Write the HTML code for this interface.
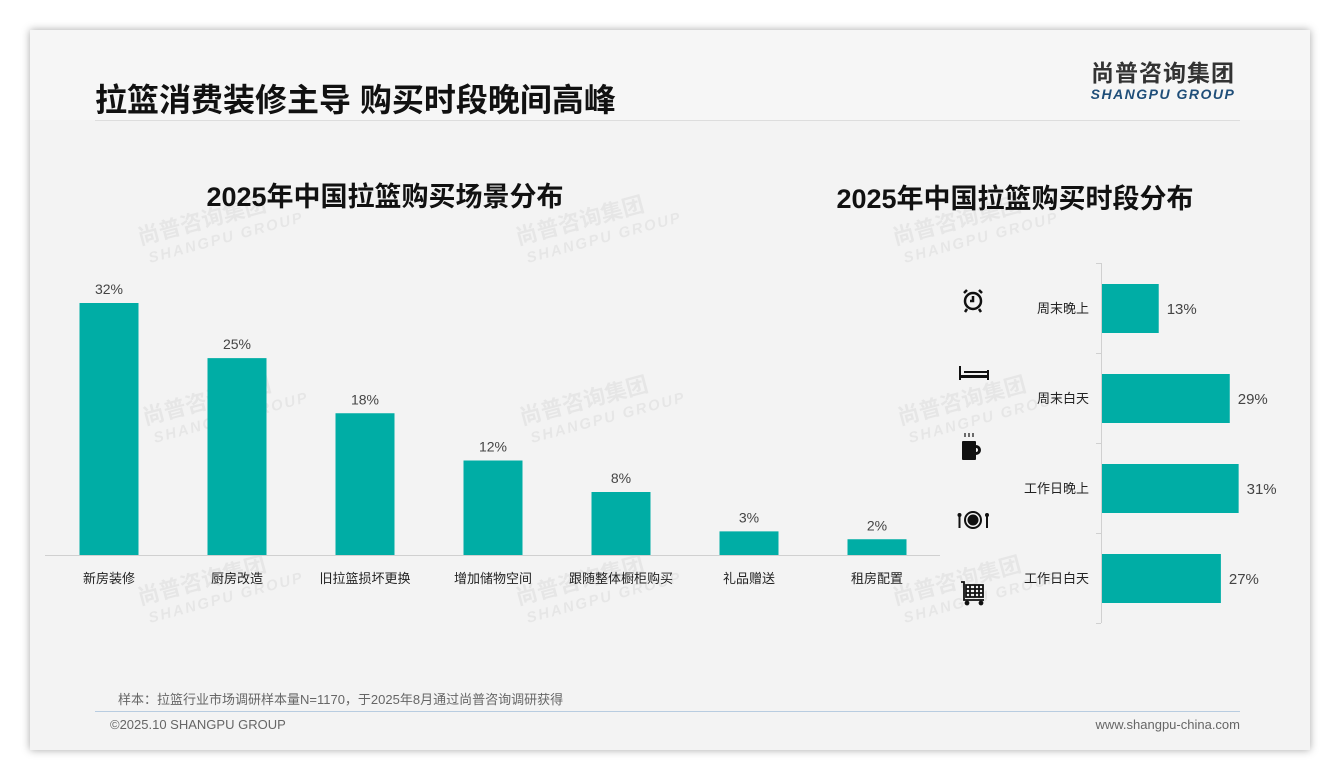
<!DOCTYPE html>
<html><head><meta charset="utf-8"><style>
body{margin:0;width:1340px;height:780px;background:#fff;font-family:"Liberation Sans","Noto Sans CJK SC",sans-serif;position:relative;overflow:hidden}
.slide{position:absolute;left:30px;top:30px;width:1280px;height:720px;background:#f3f3f3;box-shadow:0 0 8px rgba(0,0,0,.35)}
.hdr{position:absolute;left:0;top:0;width:1280px;height:90px;background:#f6f6f6}
.abs{position:absolute}
</style></head><body>
<div class="slide">
<div class="hdr"></div>
</div>
<div class="abs" style="left:95px;top:75px;font-size:32px;font-weight:bold;color:#111;white-space:nowrap">拉篮消费装修主导 购买时段晚间高峰</div>
<div class="abs" style="left:1083px;top:61px;width:160px;text-align:center">
<div style="font-size:23px;font-weight:bold;color:#333;letter-spacing:1px;line-height:25px">尚普咨询集团</div>
<div style="font-size:14px;font-weight:bold;font-style:italic;color:#1f4e79;letter-spacing:1.5px;line-height:16px">SHANGPU GROUP</div>
</div>
<div class="abs" style="left:95px;top:120px;width:1145px;height:1px;background:#ddd"></div>
<div class="abs" style="left:110px;top:175px;width:550px;text-align:center;font-size:27px;font-weight:bold;color:#111">2025年中国拉篮购买场景分布</div>
<div class="abs" style="left:800px;top:177px;width:430px;text-align:center;font-size:27px;font-weight:bold;color:#111">2025年中国拉篮购买时段分布</div>
<svg class="abs" style="left:0;top:0" width="1340" height="780" id="svg">
<g id="wms" fill="rgba(0,0,0,0.05)" font-weight="bold" font-family="Liberation Sans,Noto Sans CJK SC,sans-serif"></g>
<line x1="45" y1="555.5" x2="940" y2="555.5" stroke="#d0d0d0"/>
<line x1="1101.5" y1="263" x2="1101.5" y2="623" stroke="#d0d0d0"/>
<g id="left"></g><g id="right"></g><g id="icons"></g>
</svg>
<div class="abs" style="left:118px;top:689px;font-size:13px;color:#666;white-space:nowrap">样本：拉篮行业市场调研样本量N=1170，于2025年8月通过尚普咨询调研获得</div>
<div class="abs" style="left:95px;top:711px;width:1145px;height:1px;background:#b8cce0"></div>
<div class="abs" style="left:110px;top:717px;font-size:13px;color:#666">©2025.10 SHANGPU GROUP</div>
<div class="abs" style="left:1040px;top:717px;width:200px;text-align:right;font-size:13px;color:#666">www.shangpu-china.com</div>
<script>
const sceneCats=["新房装修","厨房改造","旧拉篮损坏更换","增加储物空间","跟随整体橱柜购买","礼品赠送","租房配置"];
const sceneVals=[32,25,18,12,8,3,2];
const timeCats=["周末晚上","周末白天","工作日晚上","工作日白天"];
const timeVals=[13,29,31,27];
const NS="http://www.w3.org/2000/svg";
function mk(t,a,p,txt){const e=document.createElementNS(NS,t);for(const k in a)e.setAttribute(k,a[k]);if(txt!==undefined)e.textContent=txt;p.appendChild(e);return e;}
const C="#00ada5";
const xL=i=>109+i*128, yL=v=>555-v*7.875;
const gl=document.getElementById('left');
sceneCats.forEach((c,i)=>{
 const b=mk('rect',{x:xL(i)-29.5,y:yL(sceneVals[i]),width:59,height:555-yL(sceneVals[i]),fill:C},gl);
 
 
 const v=mk('text',{x:xL(i),y:yL(sceneVals[i])-9,'text-anchor':'middle','font-size':14,fill:'#444'},gl,sceneVals[i]+'%');
 
 
 const l=mk('text',{x:xL(i),y:583,'text-anchor':'middle','font-size':13,fill:'#222'},gl,c);
 
 
});
const yR=i=>263+i*90, xR=v=>1101+v*4.44;
const gr=document.getElementById('right');
for(let i=0;i<=4;i++){const t=mk('line',{x1:1096,x2:1101,y1:yR(i)+.5,y2:yR(i)+.5,stroke:'#d0d0d0'},gr);
 
 }
timeCats.forEach((c,i)=>{
 const b=mk('rect',{x:1102,y:yR(i)+21,width:xR(timeVals[i])-1102,height:49,fill:C},gr);
 
 
 const v=mk('text',{x:xR(timeVals[i])+8,y:yR(i)+51,'font-size':15,fill:'#444'},gr,timeVals[i]+'%');
 
 
 const l=mk('text',{x:1089,y:yR(i)+50,'text-anchor':'end','font-size':13,fill:'#222'},gr,c);
 
 
});
const gi=document.getElementById('icons');
gi.innerHTML=`<g fill="none" stroke="#111" stroke-width="2.5"><circle cx="973" cy="301" r="8"/><path d="M973 296v5h-3M964 293l3-3M982 293l-3-3M967 309l-2 3M979 309l2 3"/></g>
<g fill="#111"><rect x="959" y="366" width="2" height="14"/><rect x="959" y="375" width="30" height="3"/><rect x="987" y="370" width="2" height="10"/><rect x="964" y="371" width="23" height="2"/></g>
<g fill="#111"><rect x="962" y="441" width="14" height="19" rx="1"/><path d="M976 445a5 5 0 0 1 0 10v-3a2 2 0 0 0 0-4z"/><path d="M965 437v-4M969 437v-4M973 437v-4" stroke="#111" stroke-width="1.2"/></g>
<g><circle cx="973" cy="520" r="8" fill="none" stroke="#111" stroke-width="2"/><circle cx="973" cy="520" r="5.5" fill="#111"/><rect x="958.5" y="515" width="2" height="13" fill="#111"/><rect x="986" y="515" width="2" height="13" fill="#111"/><circle cx="959.5" cy="515" r="2" fill="#111"/><circle cx="987" cy="515" r="2" fill="#111"/></g>
<g fill="none" stroke="#111" stroke-width="1.8"><path d="M961 582h3v18h20"/><rect x="966" y="585" width="17" height="12"/><path d="M966 589h17M966 593h17M970 585v12M975 585v12M979 585v12"/><circle cx="967" cy="603" r="1.5" fill="#111"/><circle cx="981" cy="603" r="1.5" fill="#111"/></g>`;
const gw=document.getElementById('wms');
[[140,245],[518,245],[895,245],[145,425],[522,425],[900,425],[140,605],[518,605],[895,605]].forEach(p=>{
 const g=mk('g',{transform:`translate(${p[0]},${p[1]}) rotate(-15)`},gw);
 
 
 mk('text',{x:0,y:0,'font-size':22},g,'尚普咨询集团');
 mk('text',{x:5,y:20,'font-size':15,'font-style':'italic','letter-spacing':2},g,'SHANGPU GROUP');
});
</script>
</body></html>
